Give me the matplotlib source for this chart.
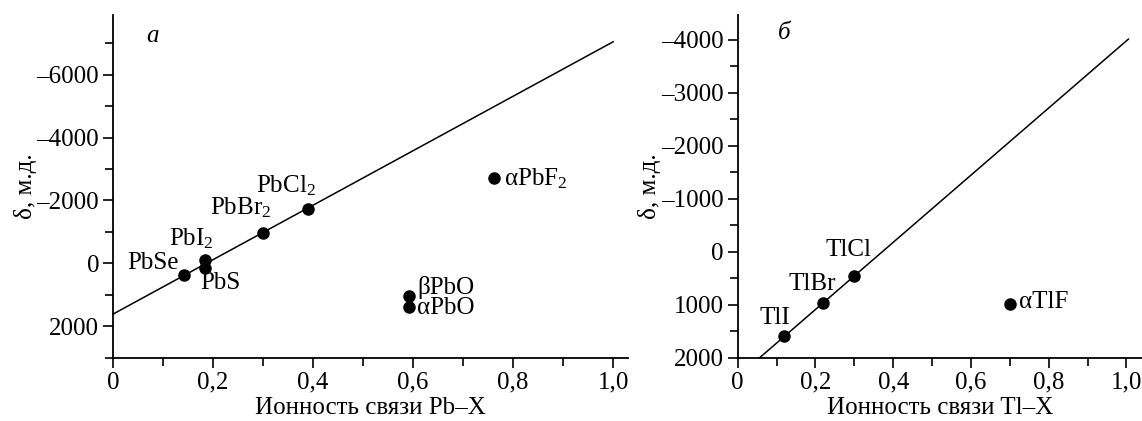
import numpy as np
import matplotlib
matplotlib.use("Agg")
import matplotlib.pyplot as plt
from matplotlib.ticker import MultipleLocator, FuncFormatter

plt.rcParams["font.family"] = ["Liberation Serif", "DejaVu Serif"]
plt.rcParams["mathtext.fontset"] = "custom"
plt.rcParams["mathtext.rm"] = "Liberation Serif"
plt.rcParams["mathtext.it"] = "Liberation Serif:italic"

# panel a: Pb compounds
pb_names = ["PbSe", "PbI$_2$", "PbS", "PbBr$_2$", "PbCl$_2$", "αPbF$_2$", "βPbO", "αPbO"]
pb_ion = [0.142, 0.184, 0.184, 0.300, 0.390, 0.761, 0.591, 0.591]
pb_shift = [370, -100, 140, -970, -1740, -2700, 1030, 1370]
pb_fit_x = [0.0, 1.0]
pb_fit_y = [1610, -7040]

# panel b: Tl compounds
tl_names = ["TlI", "TlBr", "TlCl", "αTlF"]
tl_ion = [0.118, 0.220, 0.300, 0.700]
tl_shift = [1580, 970, 460, 980]
tl_fit_x = [0.056, 1.005]
tl_fit_y = [2000, -4010]

# label anchors (x, y in data units), left edge / vertical centre unless noted
pb_lab = [(0.132, 0, "right"), (0.111, -770, "left"), (0.174, 630, "left"),
          (0.193, -1760, "left"), (0.285, -2470, "left"), (0.781, -2705, "left"),
          (0.608, 750, "left"), (0.608, 1420, "left")]
tl_lab = [(0.055, 1245, "left"), (0.131, 600, "left"), (0.225, -30, "left"),
          (0.723, 945, "left")]

FS = 18


def fmt_y(v, pos):
    v = int(round(v))
    return f"\u2013{abs(v)}" if v < 0 else f"{v}"


def fmt_x(v, pos):
    if abs(v) < 1e-9:
        return "0"
    return f"{v:.1f}".replace(".", ",")


def style_axes(ax, ylim, ymaj, ymin, xlim):
    ax.set_xlim(*xlim)
    ax.set_ylim(*ylim)
    for s in ["top", "right"]:
        ax.spines[s].set_visible(False)
    for s in ["left", "bottom"]:
        ax.spines[s].set_linewidth(1.3)
    ax.xaxis.set_major_locator(MultipleLocator(0.2))
    ax.xaxis.set_minor_locator(MultipleLocator(0.1))
    ax.yaxis.set_major_locator(MultipleLocator(ymaj))
    ax.yaxis.set_minor_locator(MultipleLocator(ymin))
    ax.xaxis.set_major_formatter(FuncFormatter(fmt_x))
    ax.yaxis.set_major_formatter(FuncFormatter(fmt_y))
    ax.tick_params(which="both", direction="out", width=1.2, labelsize=FS)
    ax.tick_params(which="major", length=7, pad=3)
    ax.tick_params(which="minor", length=6)
    ax.set_ylabel("δ, м.д.", fontsize=FS, labelpad=0)


fig = plt.figure(figsize=(11.42, 4.21), dpi=100)
ax1 = fig.add_axes([0.099, 0.150, 0.451, 0.815])
ax2 = fig.add_axes([0.646, 0.150, 0.354, 0.815])

style_axes(ax1, (3000, -7900), 2000, 1000, (0, 1.03))
style_axes(ax2, (2000, -4470), 1000, 500, (0, 1.04))

ax1.plot(pb_fit_x, pb_fit_y, color="black", lw=1.1, clip_on=False)
ax1.plot(pb_ion, pb_shift, "o", color="black", ms=8, clip_on=False)
for name, (lx, ly, ha) in zip(pb_names, pb_lab):
    ax1.text(lx, ly, name, ha=ha, va="center", fontsize=FS)
ax1.text(0.067, -7210, "a", fontsize=FS, style="italic", va="center")
ax1.set_xlabel("Ионность связи Pb–X", fontsize=FS, labelpad=2)

ax2.plot(tl_fit_x, tl_fit_y, color="black", lw=1.1, clip_on=False)
ax2.plot(tl_ion, tl_shift, "o", color="black", ms=8, clip_on=False)
for name, (lx, ly, ha) in zip(tl_names, tl_lab):
    ax2.text(lx, ly, name, ha=ha, va="center", fontsize=FS)
ax2.text(0.103, -4120, "б", fontsize=FS, style="italic", va="center")
ax2.set_xlabel("Ионность связи Tl–X", fontsize=FS, labelpad=2)

fig.savefig("out.png", dpi=100)
